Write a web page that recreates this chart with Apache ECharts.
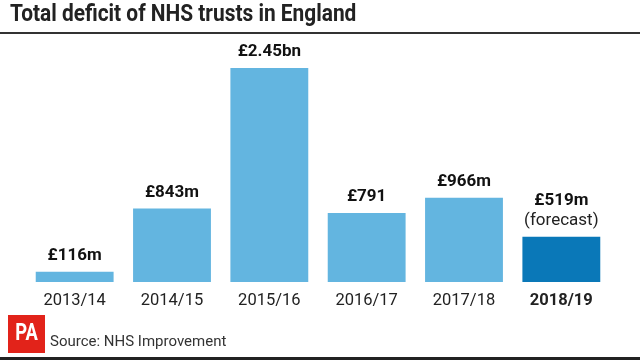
<!DOCTYPE html>
<html><head><meta charset="utf-8">
<script src="https://cdn.jsdelivr.net/npm/echarts@6/dist/echarts.min.js"></script>
<style>html,body{margin:0;padding:0;background:#fff}#c{width:640px;height:360px}</style>
</head><body><div id="c"></div>
<script>
const categories = ['2013/14','2014/15','2015/16','2016/17','2017/18','2018/19'];
const values = [116, 843, 2450, 791, 966, 519];
const valueLabels = ['£116m','£843m','£2.45bn','£791','£966m','£519m'];
const forecast = [false,false,false,false,false,true];
const titleText = 'Total deficit of NHS trusts in England';
const sourceText = 'Source: NHS Improvement';

const FONT = 'Roboto, sans-serif';
const chart = echarts.init(document.getElementById('c'), null, {renderer:'canvas'});
chart.setOption({
  animation:false,
  grid:{left:26, right:30, top:20, bottom:78},
  xAxis:{type:'category', data:categories,
    axisLine:{show:false}, axisTick:{show:false},
    axisLabel:{interval:0, margin:10, fontFamily:FONT, fontSize:16.5, color:'#222',
      formatter:(v,i)=> forecast[i] ? '{b|'+v+'}' : v,
      rich:{b:{fontWeight:'bold', fontFamily:FONT, fontSize:16.5, color:'#222'}}}},
  yAxis:{type:'value', min:0, max:3000, show:false, splitLine:{show:false}},
  series:[{type:'bar', barCategoryGap:'20%',
    data: values.map((v,i)=>({value:v, itemStyle:{color: forecast[i] ? '#0a78b8' : '#63b5e0'}})),
    label:{show:true, position:'top', distance:6,
      formatter:(p)=> forecast[p.dataIndex] ? '{a|'+valueLabels[p.dataIndex]+'}\n{f|(forecast)}' : '{a|'+valueLabels[p.dataIndex]+'}',
      rich:{a:{fontFamily:FONT, fontWeight:'bold', fontSize:17, color:'#111', lineHeight:20},
            f:{fontFamily:FONT, fontSize:17, color:'#222', lineHeight:20}}}
  }],
  graphic:[
    {type:'text', x:10, y:15, scaleX:0.87, style:{text:titleText, fill:'#222', font:'bold 24px '+FONT, textVerticalAlign:'middle'}},
    {type:'rect', shape:{x:0,y:32,width:640,height:2}, style:{fill:'#333'}},
    {type:'rect', shape:{x:8,y:315,width:37,height:38}, style:{fill:'#e2231a'}},
    {type:'text', x:26.5, y:334, scaleX:0.8, style:{text:'PA', fill:'#fff', font:'bold 23px '+FONT, textAlign:'center', textVerticalAlign:'middle'}},
    {type:'text', x:50, y:342, style:{text:sourceText, fill:'#333', font:'15px '+FONT, textVerticalAlign:'middle'}},
    {type:'rect', shape:{x:0,y:357,width:640,height:3}, style:{fill:'#222'}}
  ]
});
</script></body></html>
